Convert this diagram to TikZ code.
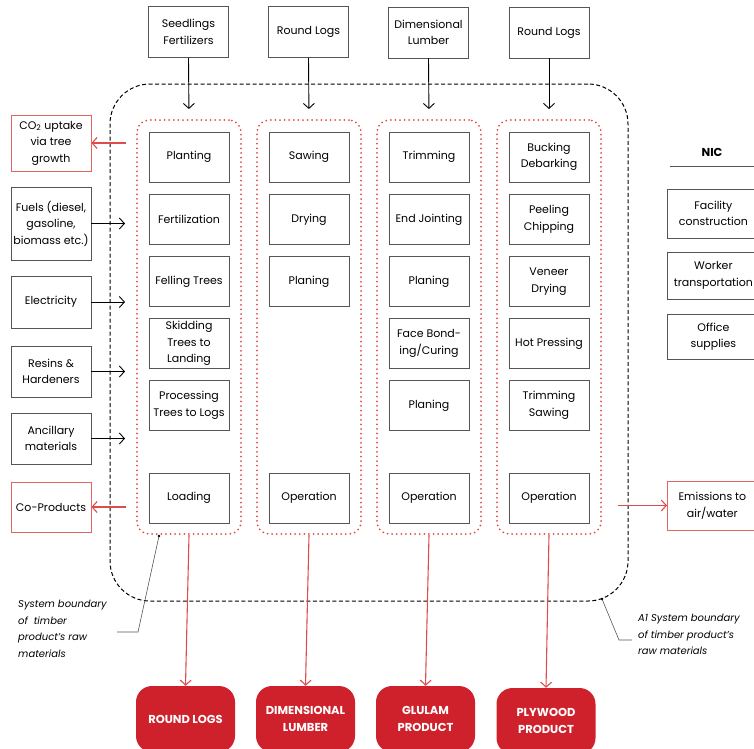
\documentclass[tikz,border=0pt]{standalone}
\usepackage{fontspec}
\setmainfont{Poppins}
\usetikzlibrary{arrows.meta}
\definecolor{bx}{HTML}{555555}
\definecolor{rd}{HTML}{E04C4C}
\definecolor{rdb}{HTML}{E06666}
\definecolor{prod}{HTML}{CF212B}
\begin{document}
\begin{tikzpicture}[x=1pt,y=-1pt,
  txt/.style={font=\fontsize{11}{16.5}\selectfont},
  box/.style={txt, draw=bx, line width=0.8pt, minimum width=80pt, minimum height=50pt, align=center, inner sep=1pt},
  rbox/.style={box, draw=rdb},
  frame/.style={draw=rd, line width=2pt, dash pattern=on 0pt off 4.6pt, line cap=round, rounded corners=12pt, minimum width=104pt, minimum height=414pt, inner sep=0pt},
  boundary/.style={draw=black, line width=1pt, dash pattern=on 4pt off 2.5pt, rounded corners=40pt, minimum width=518pt, minimum height=517pt, inner sep=0pt},
  prodbox/.style={fill=prod, draw=none, rounded corners=16pt, minimum width=99pt, minimum height=66pt, align=center, text=white, font=\fontsize{11.5}{17}\selectfont\bfseries},
  arr/.style={-{Straight Barb[length=5pt,width=11pt]}, line width=0.9pt},
  rarr/.style={arr, draw=rd, line width=1.1pt},
  note/.style={font=\fontsize{10}{16.5}\selectfont\itshape, align=left, anchor=north west, inner sep=0pt},
  lead/.style={draw=bx, line width=0.6pt}
]
\useasboundingbox (0,0) rectangle (754,748);
\clip (0,0) rectangle (754,748);

% system boundary
\node[boundary] (sb) at (369,342.5) {};

% frames
\node[frame] (c1) at (189,327) {};
\node[frame] (c2) at (309,327) {};
\node[frame] (c3) at (429,327) {};
\node[frame] (c4) at (549,327) {};

% top inputs
\node[box, minimum height=51pt] (t1) at (188.5,32) {Seedlings\\Fertilizers};
\node[box, minimum height=51pt] (t2) at (308.5,32) {Round Logs};
\node[box, minimum height=51pt] (t3) at (428.5,32.5) {Dimensional\\Lumber};
\node[box, minimum height=51pt] (t4) at (549,32.5) {Round Logs};
\foreach \i in {1,2,3,4} \draw[arr, shorten >=10pt] (t\i.south) -- (c\i.north);

% column 1
\node[box] (a1) at (189,157) {Planting};
\node[box] (a2) at (189,219.5) {Fertilization};
\node[box] (a3) at (189,281.5) {Felling Trees};
\node[box] (a4) at (189,343.5) {Skidding\\Trees to\\Landing};
\node[box] (a5) at (189,405.5) {Processing\\Trees to Logs};
\node[box] (a6) at (189,498) {Loading};
% column 2
\node[box] (b1) at (309,157) {Sawing};
\node[box] (b2) at (309,219.5) {Drying};
\node[box] (b3) at (309,281.5) {Planing};
\node[box] (b6) at (309,498) {Operation};
% column 3
\node[box] (d1) at (429,157) {Trimming};
\node[box] (d2) at (429,219.5) {End Jointing};
\node[box] (d3) at (429,281.5) {Planing};
\node[box] (d4) at (429,343.5) {Face Bond-\\ing/Curing};
\node[box] (d5) at (429,405.5) {Planing};
\node[box] (d6) at (429,498) {Operation};
% column 4
\node[box] (e1) at (549,157) {Bucking\\Debarking};
\node[box] (e2) at (549,219.5) {Peeling\\Chipping};
\node[box] (e3) at (549,281.5) {Veneer\\Drying};
\node[box] (e4) at (549,343.5) {Hot Pressing};
\node[box] (e5) at (549,405.5) {Trimming\\Sawing};
\node[box] (e6) at (549,498) {Operation};

% left side
\node[rbox, minimum height=56pt] (co2) at (51,143) {CO\textsubscript{2} uptake\\via tree\\growth};
\node[box, minimum height=73pt] (fu) at (51,223.5) {Fuels (diesel,\\gasoline,\\biomass etc.)};
\node[box, minimum height=52pt] (el) at (51,302) {Electricity};
\node[box, minimum height=51pt] (re) at (51,371.5) {Resins \&\\Hardeners};
\node[box, minimum height=51pt] (an) at (51,438.5) {Ancillary\\materials};
\node[rbox, minimum height=50pt] (cp) at (51,507) {Co-Products};

\draw[rarr, shorten <=10pt] (c1.west |- co2) -- (co2.east);
\draw[arr, shorten >=11pt] (fu.east) -- (fu.east -| c1.west);
\draw[arr, shorten >=11pt] (el.east) -- (el.east -| c1.west);
\draw[arr, shorten >=11pt] (re.east) -- (re.east -| c1.west);
\draw[arr, shorten >=11pt] (an.east) -- (an.east -| c1.west);
\draw[rarr, shorten <=10pt] (c1.west |- cp) -- (cp.east);

% right side
\node[font=\fontsize{11.5}{13}\selectfont\bfseries] (nic) at (712,152) {NIC};
\coordinate (nl) at (670,166);
\coordinate (nr) at (756,166);
\draw[bx, line width=0.8pt] (nl) -- (nr);
\node[box, minimum width=92pt, minimum height=49pt, anchor=west] (n1) at (667,213.5) {Facility\\construction};
\node[box, minimum width=92pt, minimum height=47pt, anchor=west] (n2) at (667,275.5) {Worker\\transportation};
\node[box, minimum width=92pt, minimum height=45pt, anchor=west] (n3) at (667,336.5) {Office\\supplies};
\node[rbox, minimum width=90pt, minimum height=49pt, anchor=west] (em) at (667,505.5) {Emissions to\\air/water};
\draw[rarr, shorten <=16pt] (c4.east |- em) -- (em.west);

% products
\node[prodbox] (p1) at (185.5,719) {ROUND LOGS};
\node[prodbox] (p2) at (305.5,719) {DIMENSIONAL\\LUMBER};
\node[prodbox] (p3) at (425.5,719) {GLULAM\\PRODUCT};
\node[prodbox] (p4) at (546,721) {PLYWOOD\\PRODUCT};
\foreach \i in {1,2,3,4} \draw[rarr] (c\i.south) -- (p\i.north);

% notes
\node[note] (lnote) at (18,600) {System boundary\\of\ \ timber\\product's raw\\materials};
\coordinate (l1) at (117,632);
\coordinate (l2) at (138,632);
\coordinate (l3) at (159,536);
\draw[lead] (l1) -- (l2) -- (l3);
\fill (l3) circle (1.3pt);

\node[note] (rnote) at (638,614) {A1 System boundary\\of timber product's\\raw materials};
\coordinate (r1) at (632,640);
\coordinate (r2) at (619,640);
\coordinate (r3) at (602,599);
\draw[lead] (r1) -- (r2) -- (r3);
\fill (r3) circle (1.3pt);
\end{tikzpicture}
\end{document}
